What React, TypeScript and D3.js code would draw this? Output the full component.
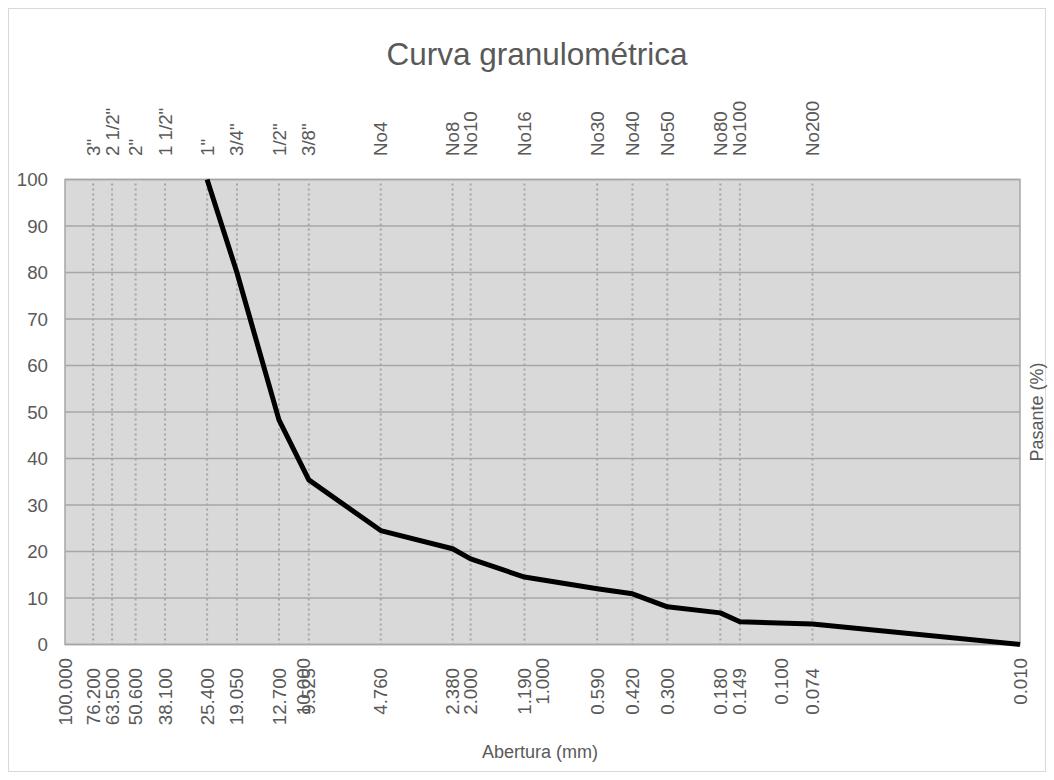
import React from "react";
import * as d3 from "d3";

const sieveNames = ['3"', '2 1/2"', '2"', '1 1/2"', '1"', '3/4"', '1/2"', '3/8"', "No4", "No8", "No10", "No16", "No30", "No40", "No50", "No80", "No100", "No200"];
const sieveSizes = [76.2, 63.5, 50.6, 38.1, 25.4, 19.05, 12.7, 9.525, 4.76, 2.38, 2.0, 1.19, 0.59, 0.42, 0.3, 0.18, 0.149, 0.074];
const decadeTicks = [100, 10, 1, 0.1, 0.01];
const curveSizes = [25.4, 19.05, 12.7, 9.525, 4.76, 2.38, 2.0, 1.19, 0.59, 0.42, 0.3, 0.18, 0.149, 0.074, 0.01];
const curvePassing = [100, 80, 48.3, 35.4, 24.5, 20.6, 18.4, 14.5, 12.0, 10.9, 8.1, 6.8, 4.9, 4.4, 0];
const yTicks = [0, 10, 20, 30, 40, 50, 60, 70, 80, 90, 100];

const W = 1054;
const H = 780;
const L = 65, R = 1020, T = 179.5, B = 644.5;
const FONT = "'Liberation Sans', Arial, sans-serif";
const TXT = "#595959";
const GRID = "#a6a6a6";

export default function App() {
  const x = d3.scaleLog().domain([100, 0.01]).range([L, R]);
  const y = d3.scaleLinear().domain([0, 100]).range([B, T]);
  const pts: [number, number][] = curveSizes.map((s, i) => [s, curvePassing[i]]);
  const line = d3
    .line<[number, number]>()
    .x((d) => x(d[0]))
    .y((d) => y(d[1]));

  return (
    <svg width={W} height={H} style={{ position: "absolute", left: 0, top: 0, display: "block" }} fontFamily={FONT}>
      <rect x={0} y={0} width={W} height={H} fill="#fff" />
      <rect x={8.5} y={8.5} width={1037} height={763} fill="none" stroke="#d9d9d9" strokeWidth={1} />
      <text x={537} y={65} textAnchor="middle" fontSize={31.5} fill={TXT}>
        Curva granulométrica
      </text>
      <rect x={L} y={T} width={R - L} height={B - T} fill="#d9d9d9" />
      {yTicks.map((t) => (
        <line key={"g" + t} x1={L} x2={R} y1={y(t)} y2={y(t)} stroke={GRID} strokeWidth={1.5} />
      ))}
      {sieveSizes.map((s) => (
        <line key={"v" + s} x1={x(s)} x2={x(s)} y1={T + 4} y2={B} stroke={GRID} strokeWidth={2} strokeDasharray="2 3" />
      ))}
      <rect x={L} y={T} width={R - L} height={B - T} fill="none" stroke={GRID} strokeWidth={1.5} />
      {yTicks.map((t) => (
        <text key={"yt" + t} x={48} y={y(t)} dy="0.35em" textAnchor="end" fontSize={18.7} fill={TXT}>
          {t}
        </text>
      ))}
      {sieveNames.map((n, i) => (
        <text
          key={"sn" + n}
          transform={`translate(${x(sieveSizes[i])},156) rotate(-90)`}
          dy="0.35em"
          textAnchor="start"
          fontSize={18.7}
          fill={TXT}
        >
          {n}
        </text>
      ))}
      {sieveSizes.map((s) => (
        <text
          key={"sl" + s}
          transform={`translate(${x(s)},668) rotate(-90)`}
          dy="0.35em"
          textAnchor="end"
          fontSize={18.7}
          fill={TXT}
        >
          {s.toFixed(3)}
        </text>
      ))}
      {decadeTicks.map((s) => (
        <text
          key={"dl" + s}
          transform={`translate(${x(s)},658) rotate(-90)`}
          dy="0.35em"
          textAnchor="end"
          fontSize={18.7}
          fill={TXT}
        >
          {s.toFixed(3)}
        </text>
      ))}
      <path d={line(pts) || ""} fill="none" stroke="#000" strokeWidth={5} strokeLinejoin="round" strokeLinecap="butt" />
      <text x={540} y={758} textAnchor="middle" fontSize={18} fill={TXT}>
        Abertura (mm)
      </text>
      <text transform={`translate(1043,${(T + B) / 2}) rotate(-90)`} textAnchor="middle" fontSize={18} fill={TXT}>
        Pasante (%)
      </text>
    </svg>
  );
}
